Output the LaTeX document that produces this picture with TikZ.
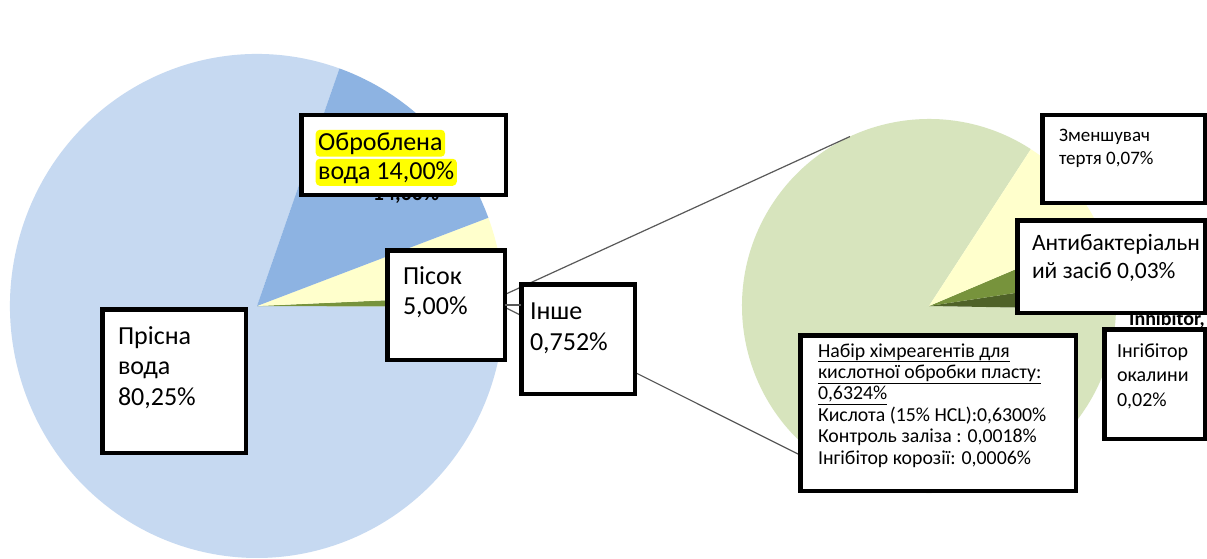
\documentclass[tikz,border=0pt]{standalone}
\usepackage{fontspec}
\setmainfont{Carlito}
\usetikzlibrary{calc}
\definecolor{lblue}{HTML}{C6D9F1}
\definecolor{dblue}{HTML}{8DB3E2}
\definecolor{pyellow}{HTML}{FFFFCC}
\definecolor{mgreen}{HTML}{77933C}
\definecolor{dgreen}{HTML}{4F6228}
\definecolor{lgreen}{HTML}{D7E4BD}
\definecolor{hlyellow}{HTML}{FFFF00}
\definecolor{conncol}{HTML}{595959}
\newcommand{\txtlines}[1]{\begin{tabular}[t]{@{}l@{}}#1\end{tabular}}
\begin{document}
\begin{tikzpicture}[x=1pt,y=-1pt,
  lbox/.style={draw=black, fill=white, line width=4.5pt, inner sep=0pt, outer sep=0pt, rectangle},
  conn/.style={draw=conncol, line width=1.2pt},
  lbl/.style={anchor=base west, inner sep=0pt, outer sep=0pt},
  bigfont/.style={font=\fontsize{26}{30.5}\selectfont},
  hl/.style={anchor=base west, fill=hlyellow, rounded corners=4pt, inner sep=2.5pt, font=\fontsize{26}{30}\selectfont}]
\useasboundingbox (0,0) rectangle (1207,559);
\fill[white] (0,0) rectangle (1207,559);
% main pie
\begin{scope}[shift={(257,306)},yscale=-1]
  \fill[lblue] (0,0) -- (70.5:247 and 252) arc[start angle=70.5, end angle=359.8, x radius=247, y radius=252] -- cycle;
  \fill[mgreen] (0,0) -- (-0.2:247 and 252) arc[start angle=-0.2, end angle=2.5, x radius=247, y radius=252] -- cycle;
  \fill[pyellow] (0,0) -- (2.5:247 and 252) arc[start angle=2.5, end angle=20.5, x radius=247, y radius=252] -- cycle;
  \fill[dblue] (0,0) -- (20.5:247 and 252) arc[start angle=20.5, end angle=70.5, x radius=247, y radius=252] -- cycle;
  \coordinate (g1) at (2.5:247 and 252);
  \coordinate (g2) at (-0.2:247 and 252);
\end{scope}
% secondary pie
\begin{scope}[shift={(929,306)},yscale=-1]
  \fill[lgreen] (0,0) -- (57:187) arc[start angle=57, end angle=359, radius=187] -- cycle;
  \fill[dgreen] (0,0) -- (-1:187) arc[start angle=-1, end angle=8.6, radius=187] -- cycle;
  \fill[mgreen] (0,0) -- (8.6:187) arc[start angle=8.6, end angle=23, radius=187] -- cycle;
  \fill[pyellow] (0,0) -- (23:187) arc[start angle=23, end angle=57, radius=187] -- cycle;
  \coordinate (p1) at (115:187);
\end{scope}
\coordinate (p2) at (812,461);
% connectors of the pie-of-pie
\draw[conn] (g1) -- (p1);
\draw[conn] (g2) -- (p2);
% partly hidden labels
\node[anchor=base, inner sep=0pt, font=\fontsize{22}{26}\selectfont\bfseries] (hid1) at (406,200) {14,00\%};
\node[anchor=base east, inner sep=0pt, font=\fontsize{20}{24}\selectfont\bfseries] (hid2) at (1205,325) {Inhibitor,};
% boxes
\node[lbox, minimum width=204.5pt, minimum height=79.5pt] (obr) at (403.5,155) {};
\node[lbox, minimum width=117.5pt, minimum height=109.5pt] (pisok) at (446,305) {};
\node[lbox, minimum width=113.5pt, minimum height=109.5pt] (inshe) at (578,339) {};
\node[lbox, minimum width=143.5pt, minimum height=143.5pt] (prisna) at (174,381) {};
\node[lbox, minimum width=162.5pt, minimum height=87.5pt] (zmen) at (1123.5,159) {};
\node[lbox, minimum width=187.5pt, minimum height=92.5pt] (anti) at (1111,266.5) {};
\node[lbox, minimum width=100.5pt, minimum height=109.5pt] (ingib) at (1154.5,384) {};
\node[lbox, minimum width=275.5pt, minimum height=155.5pt] (nabir) at (938,413) {};
\draw[conn] (pisok.east) -- (pisok.east -| inshe.west);
% labels
\node[hl] (ob1) at (315.5,150) {Оброблена};
\node[hl] (ob2) at (315.5,179) {вода 14,00\%};
\node[lbl, bigfont] (tpisok) at (403,284) {\txtlines{Пісок\\5,00\%}};
\node[lbl, bigfont] (tinshe) at (530,319.5) {\txtlines{Інше\\0,752\%}};
\node[lbl, bigfont] (tprisna) at (118,344) {\txtlines{Прісна\\вода\\80,25\%}};
\node[lbl, font=\fontsize{19}{23}\selectfont] (tzmen) at (1059,142) {\txtlines{Зменшувач\\тертя 0,07\%}};
\node[lbl, font=\fontsize{23.5}{28}\selectfont] (tanti) at (1032,250) {\txtlines{Антибактеріальн\\ий засіб 0,03\%}};
\node[lbl, font=\fontsize{20}{24.5}\selectfont] (tingib) at (1117,357) {\txtlines{Інгібітор\\окалини\\0,02\%}};
\node[lbl, font=\fontsize{19.8}{21.4}\selectfont] (tnabir) at (818,357) {\txtlines{\underline{Набір хімреагентів для}\\\underline{кислотної обробки пласту:}\\\underline{0,6324\%}\\Кислота (15\% HCL):0,6300\%\\Контроль заліза : 0,0018\%\\Інгібітор корозії: 0,0006\%}};
\end{tikzpicture}
\end{document}
